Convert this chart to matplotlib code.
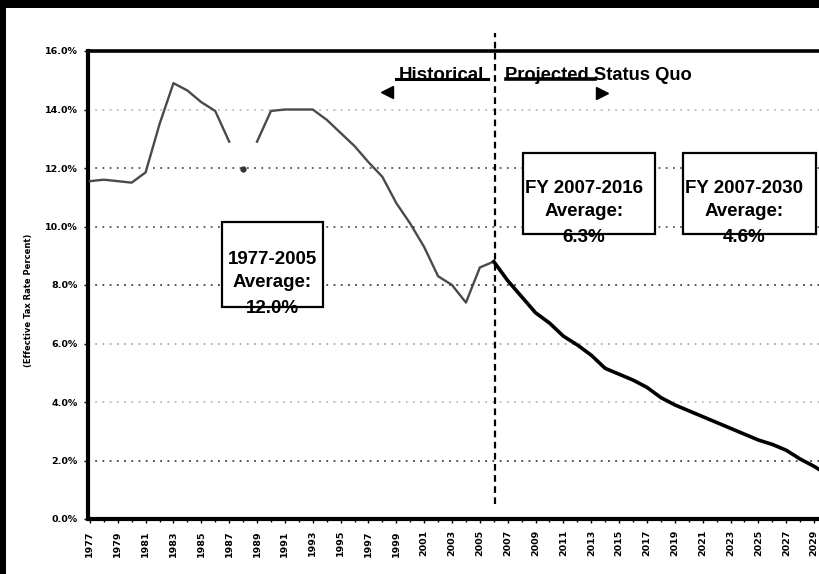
import numpy as np
import matplotlib
matplotlib.use("Agg")
import matplotlib.pyplot as plt
from matplotlib.patches import Rectangle

# ---- data -------------------------------------------------------------
hist_years = list(range(1977, 2007))
hist_rate = [11.55, 11.6, 11.55, 11.5, 11.85, 13.5, 14.9, 14.65, 14.25, 13.95,
             12.9, 11.95, 12.9, 13.95, 14.0, 14.0, 14.0, 13.65, 13.2, 12.75,
             12.2, 11.7, 10.8, 10.1, 9.3, 8.3, 8.0, 7.4, 8.6, 8.8]

proj_years = list(range(2007, 2031))
proj_rate = [8.15, 7.6, 7.05, 6.7, 6.25, 5.95, 5.6, 5.15, 4.95, 4.75,
             4.5, 4.15, 3.9, 3.7, 3.5, 3.3, 3.1, 2.9, 2.7, 2.55,
             2.35, 2.05, 1.8, 1.5]

y_ticks = [0, 2, 4, 6, 8, 10, 12, 14, 16]
x_tick_years = list(range(1977, 2030, 2))

box_texts = ["1977-2005\nAverage:\n12.0%",
             "FY 2007-2016\nAverage:\n6.3%",
             "FY 2007-2030\nAverage:\n4.6%"]
split_year = 2006

# ---- figure -------------------------------------------------------------
W, H = 820, 574
fig = plt.figure(figsize=(W / 100, H / 100), dpi=100)
fig.patch.set_facecolor("white")
ax = fig.add_axes([88.5 / W, 55 / H, 746.5 / W, 468 / H])
ax.set_xlim(1976.9, 2030.5)
ax.set_ylim(0, 16)

TICKFONT = dict(family="DejaVu Sans", weight="bold", size=6.8)
BOXFONT = dict(family="Liberation Sans", weight="bold", size=13.5)

# gridlines
grid_colors = {2: "#444444", 4: "#bbbbbb", 6: "#aaaaaa", 8: "#444444",
               10: "#555555", 12: "#555555", 14: "#bbbbbb"}
for lvl, col in grid_colors.items():
    ax.axhline(lvl, color=col, lw=1.3, ls=(0, (1, 3)), zorder=1)

# historical line (the 1987-1989 stretch is broken in the print)
hy = np.array(hist_years)
hr = np.array(hist_rate)
m1 = hy <= 1987
m2 = hy >= 1989
ax.plot(hy[m1], hr[m1], color="#4a4a4a", lw=1.7, zorder=3,
        solid_joinstyle="round")
ax.plot(hy[hy == 1988], hr[hy == 1988], "o", color="#333333", ms=3.5, zorder=3)
ax.plot(hy[m2], hr[m2], color="#4a4a4a", lw=1.7, zorder=3,
        solid_joinstyle="round")

# projected line, continuing from the last historical point
px_ = [hist_years[-1]] + proj_years
py_ = [hist_rate[-1]] + proj_rate
ax.plot(px_, py_, color="black", lw=2.6, zorder=4, solid_joinstyle="round")

# dividing line between historical and projected
ax.plot([split_year + 0.08, split_year + 0.08], [0.5, 16.6], color="black",
        lw=1.6, ls=(0, (3, 2)), zorder=5, clip_on=False)

# average boxes
boxes = [((1986.46, 7.26), 7.27, 2.88, 1990.08, [8.86, 8.09, 7.2]),
         ((2008.11, 9.73), 9.45, 2.77, 2012.47, [11.3, 10.51, 9.62]),
         ((2019.59, 9.73), 9.57, 2.77, 2023.94, [11.3, 10.51, 9.62])]
for txt, (xy, w, h, cx, ys) in zip(box_texts, boxes):
    ax.add_patch(Rectangle(xy, w, h, facecolor="white", edgecolor="none",
                           zorder=6))
    for line, yy in zip(txt.split("\n"), ys):
        ax.text(cx, yy, line, ha="center", va="center", zorder=7, **BOXFONT)
    ax.add_patch(Rectangle(xy, w, h, facecolor="none", edgecolor="black",
                           lw=1.6, zorder=8))

# period headers with their strike line and arrowheads
ax.text(2002.26, 15.16, "Historical", ha="center", va="center", zorder=7,
        **BOXFONT)
ax.text(2006.8, 15.16, "Projected Status Quo", ha="left", va="center",
        zorder=7, family="Liberation Sans", weight="bold", size=13.2)
ax.plot([1999.0, 2005.6], [15.04, 15.04], color="black", lw=2.2, zorder=8)
ax.plot([2006.9, 2013.3], [15.04, 15.04], color="black", lw=2.6, zorder=8)
ax.plot([1998.3], [14.6], marker="<", color="black", ms=8, zorder=8)
ax.plot([2013.75], [14.55], marker=">", color="black", ms=8, zorder=8)

# axes styling
ax.spines["right"].set_visible(False)
ax.spines["left"].set_linewidth(3)
ax.spines["bottom"].set_linewidth(3)
ax.spines["top"].set_linewidth(2.6)

ax.set_yticks(y_ticks)
ax.set_yticklabels([f"{v:.1f}%" for v in y_ticks], **TICKFONT)
ax.tick_params(axis="y", length=3, width=1, pad=5)

ax.set_xticks(x_tick_years)
ax.set_xticklabels([str(y) for y in x_tick_years], rotation=90, **TICKFONT)
ax.set_xticks(hist_years + proj_years, minor=True)
ax.tick_params(axis="x", which="major", length=3, width=1, pad=5)
ax.tick_params(axis="x", which="minor", length=2, width=1)

ax.set_ylabel("(Effective Tax Rate Percent)", family="DejaVu Sans",
              weight="bold", size=6)
ax.yaxis.set_label_coords(-55 / 746.5, (519 - 300) / 468)

# dark edge of the scanned page
fig.add_artist(Rectangle((0, 1 - 8 / H), 1, 8 / H, transform=fig.transFigure,
                         facecolor="black", edgecolor="none", zorder=20))
fig.add_artist(Rectangle((0, 0), 6 / W, 1, transform=fig.transFigure,
                         facecolor="black", edgecolor="none", zorder=20))

fig.savefig("out.png", dpi=100)
